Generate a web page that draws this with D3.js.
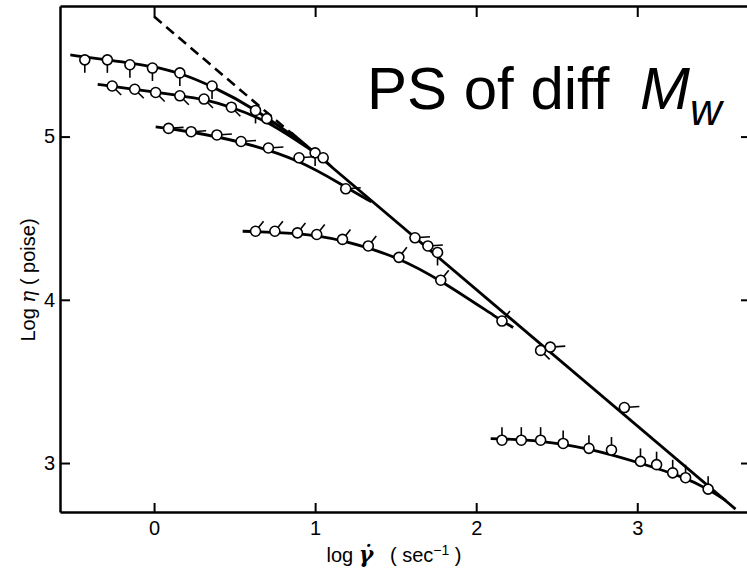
<!DOCTYPE html>
<meta charset="utf-8">
<title>PS of diff Mw</title>
<style>
  body { margin: 0; background: #fff; }
  text { font-family: "Liberation Sans", Arial, sans-serif; fill: #000; }
</style>
<body>
<script src="https://cdn.jsdelivr.net/npm/d3@7"></script>
<script>

var width = 747;
var height = 573;

// axis ticks
var xTicks = [0, 1, 2, 3];
var yTicks = [3, 4, 5];

// measured points (log shear rate, log viscosity), one series per sample
var seriesA_x = [-0.43, -0.29, -0.15, -0.01, 0.16, 0.36, 0.63, 1.00, 1.76];
var seriesA_y = [5.47, 5.47, 5.44, 5.42, 5.39, 5.31, 5.16, 4.90, 4.29];
var seriesB_x = [-0.26, -0.12, 0.01, 0.16, 0.31, 0.48, 0.70, 1.05, 2.40];
var seriesB_y = [5.31, 5.29, 5.27, 5.25, 5.23, 5.18, 5.11, 4.87, 3.69];
var seriesC_x = [0.09, 0.23, 0.39, 0.54, 0.71, 0.90, 1.19, 1.62, 1.70, 2.46, 2.92];
var seriesC_y = [5.05, 5.03, 5.01, 4.97, 4.93, 4.87, 4.68, 4.38, 4.33, 3.71, 3.34];
var seriesD_x = [0.63, 0.75, 0.89, 1.01, 1.17, 1.33, 1.52, 1.78, 2.16];
var seriesD_y = [4.42, 4.42, 4.41, 4.40, 4.37, 4.33, 4.26, 4.12, 3.87];
var seriesE_x = [2.16, 2.28, 2.40, 2.54, 2.70, 2.84, 3.02, 3.12, 3.22, 3.30, 3.44];
var seriesE_y = [3.14, 3.14, 3.14, 3.12, 3.09, 3.08, 3.01, 2.99, 2.94, 2.91, 2.84];

// drawn fit curves
var fitA = [[-0.52, 5.50], [-0.29, 5.47], [0.0, 5.43], [0.16, 5.39], [0.36, 5.31], [0.63, 5.17], [0.95, 4.94]];
var fitB = [[-0.35, 5.32], [-0.12, 5.29], [0.16, 5.25], [0.31, 5.23], [0.48, 5.18], [0.70, 5.10], [1.0, 4.90]];
var fitC = [[0.01, 5.06], [0.23, 5.03], [0.54, 4.97], [0.90, 4.86], [1.19, 4.69], [1.35, 4.60]];
var fitD = [[0.55, 4.42], [0.89, 4.41], [1.17, 4.37], [1.52, 4.26], [1.78, 4.12], [2.16, 3.87], [2.23, 3.83]];
var fitE = [[2.09, 3.15], [2.40, 3.14], [2.70, 3.09], [3.02, 3.00], [3.30, 2.91], [3.44, 2.84], [3.55, 2.77]];

// limiting power-law line
var masterDashed = [[0.0, 5.735], [0.9, 4.98]];
var masterSolid = [[0.85, 5.025], [3.61, 2.718]];

var svg = d3.select("body")
      .append("svg")
      .attr("width", width)
      .attr("height", height);

var x = d3.scaleLinear().domain([-0.584, 3.70]).range([60, 750]);
var y = d3.scaleLinear().domain([2.70, 5.80]).range([512, 6]);

// frame + ticks (all ticks point inward)
function styleAxis(g) {
  g.selectAll(".domain").attr("stroke", "#000").attr("stroke-width", 2.5);
  g.selectAll(".tick line").attr("stroke", "#000").attr("stroke-width", 2);
  g.selectAll(".tick text")
    .attr("fill", "#000")
    .style("font-family", "'Liberation Sans', Arial, sans-serif")
    .style("font-size", "20px");
}

svg.append("g")
  .attr("transform", "translate(0,512)")
  .call(d3.axisBottom(x).tickValues(xTicks).tickSize(-9).tickSizeOuter(0).tickPadding(9)
    .tickFormat(d3.format("d")))
  .call(styleAxis);

svg.append("g")
  .attr("transform", "translate(0,6)")
  .call(d3.axisTop(x).tickValues(xTicks).tickSize(-11).tickSizeOuter(0).tickFormat(""))
  .call(styleAxis);

svg.append("g")
  .attr("transform", "translate(60,0)")
  .call(d3.axisLeft(y).tickValues(yTicks).tickSize(-10).tickSizeOuter(0).tickPadding(5)
    .tickFormat(d3.format("d")))
  .call(styleAxis);

svg.append("g")
  .attr("transform", "translate(750,0)")
  .call(d3.axisRight(y).tickValues(yTicks).tickSize(-9).tickSizeOuter(0).tickFormat(""))
  .call(styleAxis);

// axis titles
svg.append("text")
  .attr("transform", "translate(35,280) rotate(-90)")
  .attr("text-anchor", "middle")
  .style("font-size", "20px")
  .html("Log <tspan font-family='DejaVu Serif' font-style='italic'>η</tspan> ( poise)");

var xt = svg.append("text")
  .attr("x", 394)
  .attr("y", 562)
  .attr("text-anchor", "middle")
  .style("font-size", "20px")
  .style("white-space", "pre");
xt.append("tspan").text("log ");
xt.append("tspan")
  .style("font-family", "'DejaVu Serif', serif")
  .style("font-style", "italic")
  .style("font-weight", "bold")
  .style("font-size", "22px")
  .text("γ\u0307");
xt.append("tspan").text("   ( sec");
xt.append("tspan").attr("dy", -7).style("font-size", "14px").text("\u22121");
xt.append("tspan").attr("dy", 7).text(" )");

// big annotation
svg.append("text")
  .attr("x", 367)
  .attr("y", 109)
  .style("font-size", "60px")
  .text("PS of diff");
svg.append("text")
  .attr("x", 640)
  .attr("y", 109)
  .style("font-size", "60px")
  .style("font-style", "italic")
  .text("M");
svg.append("text")
  .attr("x", 690)
  .attr("y", 125)
  .style("font-size", "44px")
  .style("font-style", "italic")
  .text("w");

// lines
var line = d3.line()
  .x(function(d) { return x(d[0]); })
  .y(function(d) { return y(d[1]); })
  .curve(d3.curveBasis);

svg.append("path")
  .attr("d", line(masterDashed))
  .attr("fill", "none")
  .attr("stroke", "#000")
  .attr("stroke-width", 2.6)
  .attr("stroke-dasharray", "10,6");

svg.append("path")
  .attr("d", line(masterSolid))
  .attr("fill", "none")
  .attr("stroke", "#000")
  .attr("stroke-width", 2.8);

[fitA, fitB, fitC, fitD, fitE].forEach(function(f) {
  svg.append("path")
    .attr("d", line(f))
    .attr("fill", "none")
    .attr("stroke", "#000")
    .attr("stroke-width", 2.8);
});

// points with their little direction flags
var series = [
  { xs: seriesA_x, ys: seriesA_y, flag: [0, 13] },     // down
  { xs: seriesB_x, ys: seriesB_y, flag: [9, 9] },      // down-right
  { xs: seriesC_x, ys: seriesC_y, flag: [15, -1] },    // right
  { xs: seriesD_x, ys: seriesD_y, flag: [8, -10] },    // up-right
  { xs: seriesE_x, ys: seriesE_y, flag: [0, -13] }     // up
];

series.forEach(function(s) {
  var pts = s.xs.map(function(v, i) { return [v, s.ys[i]]; });
  var g = svg.append("g");

  g.selectAll("line")
    .data(pts)
    .enter().append("line")
    .attr("x1", function(d) { return x(d[0]); })
    .attr("y1", function(d) { return y(d[1]); })
    .attr("x2", function(d) { return x(d[0]) + s.flag[0]; })
    .attr("y2", function(d) { return y(d[1]) + s.flag[1]; })
    .attr("stroke", "#000")
    .attr("stroke-width", 1.6);

  g.selectAll("circle")
    .data(pts)
    .enter().append("circle")
    .attr("cx", function(d) { return x(d[0]); })
    .attr("cy", function(d) { return y(d[1]); })
    .attr("r", 5)
    .attr("fill", "#fff")
    .attr("stroke", "#000")
    .attr("stroke-width", 1.6);
});

</script>
</body>
